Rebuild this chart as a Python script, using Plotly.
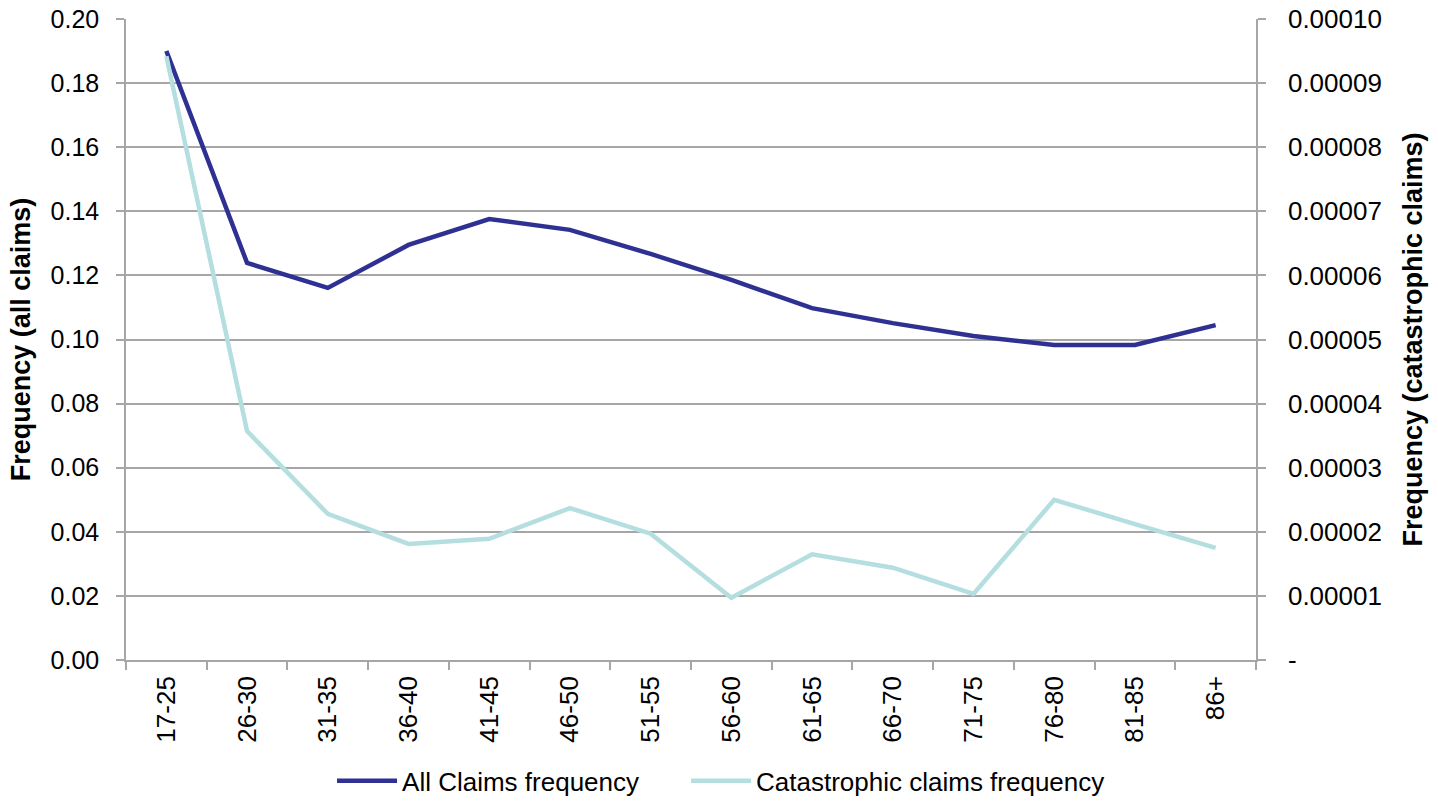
import plotly.graph_objects as go

categories = ["17-25", "26-30", "31-35", "36-40", "41-45", "46-50", "51-55",
              "56-60", "61-65", "66-70", "71-75", "76-80", "81-85", "86+"]
all_claims = [0.190, 0.1239, 0.1161, 0.1295, 0.1376, 0.1342, 0.1267,
              0.1186, 0.1098, 0.1051, 0.1011, 0.0983, 0.0983, 0.1045]
catastrophic = [0.0000942, 0.0000357, 0.0000228, 0.0000181, 0.0000189, 0.0000237,
                0.0000197, 0.0000097, 0.0000165, 0.0000144, 0.0000103, 0.0000250,
                0.0000212, 0.0000175]
left_ticks = [0.00, 0.02, 0.04, 0.06, 0.08, 0.10, 0.12, 0.14, 0.16, 0.18, 0.20]
right_ticks = [0, 0.00001, 0.00002, 0.00003, 0.00004, 0.00005,
               0.00006, 0.00007, 0.00008, 0.00009, 0.00010]
right_labels = ["-", "0.00001", "0.00002", "0.00003", "0.00004", "0.00005",
                "0.00006", "0.00007", "0.00008", "0.00009", "0.00010"]

FONT = "Liberation Sans, Arial, sans-serif"
GRID = "#A6A6A6"
FS = 26

fig = go.Figure()
fig.add_trace(go.Scatter(x=categories, y=all_claims, mode="lines",
                         name="All Claims frequency", legendwidth=279,
                         line=dict(color="#2E3192", width=4.5)))
fig.add_trace(go.Scatter(x=categories, y=catastrophic, mode="lines",
                         name="Catastrophic claims frequency", yaxis="y2",
                         legendwidth=380,
                         line=dict(color="#B4DEDF", width=4.5)))

fig.update_layout(
    width=1438, height=801,
    margin=dict(l=126, r=182, t=19, b=141, autoexpand=False),
    paper_bgcolor="white", plot_bgcolor="white",
    font=dict(family=FONT, size=FS, color="#000000"),
    showlegend=True,
    legend=dict(orientation="h", x=0.2309, xanchor="left", xref="container",
                yref="container", y=0.025, yanchor="middle",
                font=dict(size=FS), itemwidth=60),
    xaxis=dict(type="category", range=[-0.5, 13.5], tickangle=-90,
               showline=True, linecolor=GRID, linewidth=1.5,
               ticks="outside", ticklen=8, tickcolor=GRID, tickwidth=1.5,
               tickson="boundaries", showgrid=False, ticklabelstandoff=4,
               automargin=False, tickfont=dict(size=FS)),
    yaxis=dict(range=[0, 0.20], tickvals=left_ticks, tickformat=".2f",
               showline=True, linecolor=GRID, linewidth=1.5,
               ticks="outside", ticklen=8, tickcolor=GRID, tickwidth=1.5,
               showgrid=True, gridcolor=GRID, gridwidth=1.5, zeroline=False,
               ticklabelstandoff=12, ticklabeloverflow="allow", automargin=False,
               tickfont=dict(size=25),
               title=dict(text="<b>Frequency (all claims)</b>", standoff=12,
                          font=dict(size=27))),
    yaxis2=dict(range=[0, 0.0001], overlaying="y", side="right",
                tickvals=right_ticks, ticktext=right_labels,
                showline=True, linecolor=GRID, linewidth=1.5,
                ticks="outside", ticklen=8, tickcolor=GRID, tickwidth=1.5,
                showgrid=False, zeroline=False,
                ticklabelstandoff=17, ticklabeloverflow="allow", automargin=False,
                tickfont=dict(size=FS),
                title=dict(text="<b>Frequency (catastrophic claims)</b>", standoff=22,
                           font=dict(size=27))),
)

fig.write_html("out.html", config={"displayModeBar": False},
               post_script="document.body.style.margin='0';")
